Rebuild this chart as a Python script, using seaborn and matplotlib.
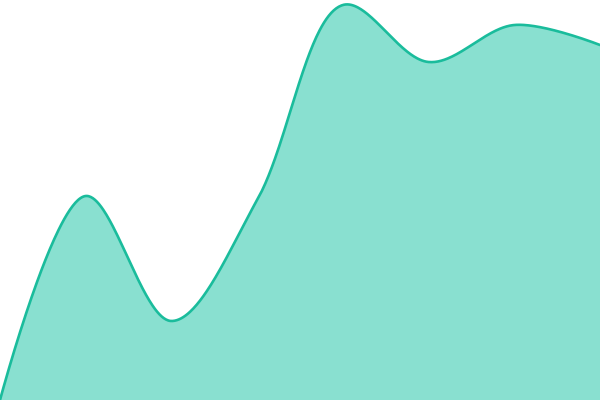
import numpy as np
import pandas as pd
import matplotlib
matplotlib.use("Agg")
import matplotlib.pyplot as plt
import seaborn as sns

# data (8 evenly spaced points, height from the bottom)
steps = [0, 1, 2, 3, 4, 5, 6, 7]
values = [0, 204, 79, 200, 395, 338, 375, 355]

LINE = "#1abc9c"
FILL = "#89e0d0"

W, H = 600, 400


def catmull_rom_centripetal(px, py, alpha=0.5, n=80):
    # Catmull-Rom with alpha 0.5 (as d3.curveCatmullRom), worked out in pixel space
    P = np.column_stack([px, py]).astype(float)
    k = len(P)
    d = np.r_[0.0, np.hypot(*np.diff(P, axis=0).T), 0.0]  # d[i] = |P[i-1] - P[i]|
    out = [P[:1]]
    for i in range(k - 1):
        p0 = P[i - 1] if i > 0 else P[i]
        p1, p2 = P[i], P[i + 1]
        p3 = P[i + 2] if i + 2 < k else P[i + 1]
        l01 = d[i] ** alpha if i > 0 else 0.0
        l12 = d[i + 1] ** alpha
        l23 = d[i + 2] ** alpha if i + 2 < k else 0.0
        c1, c2 = p1.copy(), p2.copy()
        if l01 > 1e-12:
            a = 2 * l01**2 + 3 * l01 * l12 + l12**2
            m = 3 * l01 * (l01 + l12)
            c1 = (p1 * a - p0 * l12**2 + p2 * l01**2) / m
        if l23 > 1e-12:
            b = 2 * l23**2 + 3 * l23 * l12 + l12**2
            m = 3 * l23 * (l23 + l12)
            c2 = (p2 * b + p1 * l23**2 - p3 * l12**2) / m
        t = np.linspace(0, 1, n)[1:, None]
        seg = (1 - t) ** 3 * p1 + 3 * (1 - t) ** 2 * t * c1 + 3 * (1 - t) * t**2 * c2 + t**3 * p2
        out.append(seg)
    return np.vstack(out)


sns.set_theme(style="white")

scale_x = W / (len(steps) - 1)
pts = catmull_rom_centripetal(np.array(steps) * scale_x, np.array(values, float))
curve = pd.DataFrame({"step": pts[:, 0] / scale_x, "value": pts[:, 1]})

fig = plt.figure(figsize=(6, 4), dpi=100)
ax = fig.add_axes([0, 0, 1, 1])

ax.fill_between(curve["step"], 0, curve["value"], color=FILL, linewidth=0)
sns.lineplot(data=curve, x="step", y="value", color=LINE, linewidth=1.9, sort=False, ax=ax)

ax.set_xlim(0, 7)
ax.set_ylim(0, 400)
ax.axis("off")

fig.savefig("out.png", dpi=100)
plt.close(fig)
